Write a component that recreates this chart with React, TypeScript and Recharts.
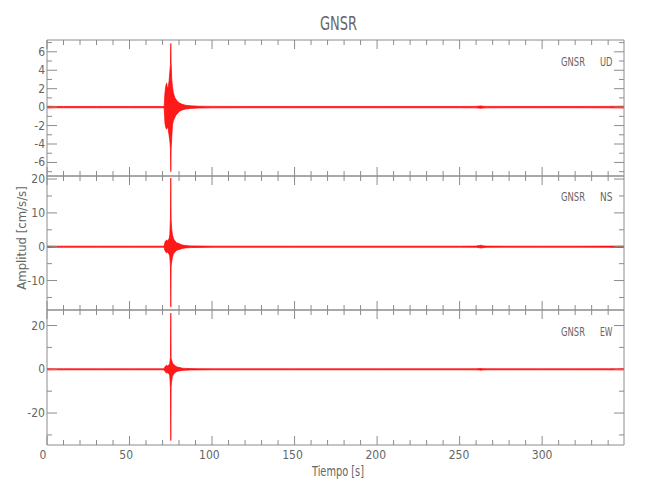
import React from "react";
import { ComposedChart, Area, XAxis, YAxis } from "recharts";

// ---- data ----
const timeS = [
  0, 2, 4, 6, 10, 20, 30, 40, 50, 60, 70, 71, 71.5, 72, 72.5, 73, 73.5, 74, 74.4, 74.8,
  75, 75.2, 75.6, 76, 76.5, 77, 77.5, 78, 78.5, 79.5, 80.5, 82, 84, 87, 92, 100, 120,
  150, 200, 250, 260, 262, 263, 264, 266, 280, 300, 320, 340, 345, 349.6,
];
const udHigh = [
  0.1, 0.09, 0.08, 0.07, 0.07, 0.07, 0.07, 0.07, 0.07, 0.07, 0.07, 0.09, 1.6, 2.3, 2.6, 2.0, 2.2, 2.9, 3.8, 4.6,
  6.9, 4.8, 3.0, 2.2, 1.6, 1.3, 1.0, 0.9, 0.75, 0.55, 0.42, 0.3, 0.2, 0.14, 0.1, 0.08, 0.07,
  0.07, 0.07, 0.07, 0.08, 0.11, 0.13, 0.1, 0.08, 0.07, 0.07, 0.07, 0.08, 0.09, 0.1,
];
const udLow = [
  -0.1, -0.09, -0.08, -0.07, -0.07, -0.07, -0.07, -0.07, -0.07, -0.07, -0.07, -0.09, -1.8, -2.2, -2.4, -2.1, -2.4, -3.1, -3.6, -4.5,
  -7.0, -4.6, -3.2, -2.0, -1.5, -1.3, -1.1, -0.9, -0.8, -0.6, -0.42, -0.3, -0.2, -0.14, -0.1, -0.08, -0.07,
  -0.07, -0.07, -0.07, -0.08, -0.11, -0.13, -0.1, -0.08, -0.07, -0.07, -0.07, -0.08, -0.09, -0.1,
];
const nsHigh = [
  0.22, 0.2, 0.19, 0.17, 0.17, 0.16, 0.16, 0.16, 0.16, 0.16, 0.16, 0.2, 1.4, 1.8, 2.0, 1.7, 2.0, 2.4, 3.5, 8.5,
  20.3, 8.0, 5.0, 3.6, 2.6, 2.0, 1.8, 1.4, 1.2, 1.0, 0.8, 0.5, 0.35, 0.25, 0.2, 0.17, 0.16,
  0.16, 0.16, 0.16, 0.18, 0.35, 0.45, 0.3, 0.18, 0.16, 0.16, 0.16, 0.18, 0.2, 0.22,
];
const nsLow = [
  -0.22, -0.2, -0.19, -0.17, -0.17, -0.16, -0.16, -0.16, -0.16, -0.16, -0.16, -0.2, -1.2, -1.6, -1.8, -1.5, -1.9, -2.2, -3.0, -5.7,
  -17.8, -6.0, -4.2, -3.2, -2.3, -1.8, -1.6, -1.3, -1.1, -0.9, -0.75, -0.5, -0.35, -0.25, -0.2, -0.17, -0.16,
  -0.16, -0.16, -0.16, -0.18, -0.3, -0.4, -0.3, -0.18, -0.16, -0.16, -0.16, -0.18, -0.2, -0.22,
];
const ewHigh = [
  0.32, 0.3, 0.28, 0.25, 0.25, 0.23, 0.23, 0.23, 0.23, 0.23, 0.23, 0.28, 1.2, 1.6, 1.8, 1.5, 1.8, 2.0, 2.8, 5.5,
  25.7, 5.0, 4.0, 3.0, 2.4, 2.0, 1.7, 1.4, 1.2, 0.9, 0.8, 0.5, 0.4, 0.32, 0.27, 0.24, 0.23,
  0.23, 0.23, 0.23, 0.25, 0.35, 0.4, 0.3, 0.25, 0.23, 0.23, 0.23, 0.25, 0.28, 0.32,
];
const ewLow = [
  -0.32, -0.3, -0.28, -0.25, -0.25, -0.23, -0.23, -0.23, -0.23, -0.23, -0.23, -0.28, -0.9, -1.5, -1.7, -1.6, -1.8, -2.1, -3.0, -8.5,
  -32.6, -8.0, -5.0, -3.2, -2.5, -1.9, -1.6, -1.3, -1.1, -0.8, -0.7, -0.5, -0.4, -0.32, -0.27, -0.24, -0.23,
  -0.23, -0.23, -0.23, -0.25, -0.35, -0.4, -0.3, -0.25, -0.23, -0.23, -0.23, -0.25, -0.28, -0.32,
];

const xTicks = [0, 10, 20, 30, 40, 50, 60, 70, 80, 90, 100, 110, 120, 130, 140, 150, 160, 170, 180, 190, 200, 210, 220, 230, 240, 250, 260, 270, 280, 290, 300, 310, 320, 330, 340];
const xLabelValues = [0, 50, 100, 150, 200, 250, 300];
const udTicks = [-7, -6, -5, -4, -3, -2, -1, 0, 1, 2, 3, 4, 5, 6, 7];
const udLabels = [-6, -4, -2, 0, 2, 4, 6];
const nsTicks = [-15, -10, -5, 0, 5, 10, 15, 20];
const nsLabels = [-10, 0, 10, 20];
const ewTicks = [-30, -20, -10, 0, 10, 20];
const ewLabels = [-20, 0, 20];

const rows = timeS.map((t, i) => ({
  t,
  ud: [udLow[i], udHigh[i]],
  ns: [nsLow[i], nsHigh[i]],
  ew: [ewLow[i], ewHigh[i]],
}));

// ---- style ----
const W = 650;
const H = 500;
const LEFT = 47;
const RIGHT = 26;
const T_MAX = 349.6;
const AXIS = "#8c8c8c";
const TEXT = "#666666";
const RED = "#ff0000";
const FONT = "'DejaVu Sans Condensed', 'Liberation Sans', sans-serif";

function makeXTick(side: "top" | "bottom", labels: number[]) {
  return (p: any) => {
    const v = p.payload.value;
    const major = v % 50 === 0;
    const len = major ? 9 : 5;
    const dir = side === "bottom" ? -1 : 1;
    const shift = -4 * (1 - v / 300);
    return (
      <g>
        <line x1={p.x} x2={p.x} y1={p.y} y2={p.y + dir * len} stroke={AXIS} strokeWidth={1} />
        {side === "bottom" && labels.indexOf(v) >= 0 ? (
          <text x={p.x + shift} y={p.y + 14} textAnchor="middle" fontFamily={FONT} fontSize={12} fill={TEXT}>
            {v}
          </text>
        ) : null}
      </g>
    );
  };
}

function makeYTick(side: "left" | "right", labels: number[]) {
  return (p: any) => {
    const v = p.payload.value;
    const major = labels.indexOf(v) >= 0;
    const len = major ? 10 : 5;
    const dir = side === "left" ? 1 : -1;
    return (
      <g>
        <line x1={p.x} x2={p.x + dir * len} y1={p.y} y2={p.y} stroke={AXIS} strokeWidth={1} />
        {side === "left" && major ? (
          <text x={p.x - 2} y={p.y + 4} textAnchor="end" fontFamily={FONT} fontSize={12} fill={TEXT}>
            {v}
          </text>
        ) : null}
      </g>
    );
  };
}

type PanelProps = {
  top: number;
  bottom: number;
  dataKey: string;
  domain: [number, number];
  yTicks: number[];
  yLabels: number[];
  showXLabels: boolean;
};

function Panel({ top, bottom, dataKey, domain, yTicks, yLabels, showXLabels }: PanelProps) {
  return (
    <div style={{ position: "absolute", left: 0, top: 0 }}>
      <ComposedChart
        width={W}
        height={H}
        data={rows}
        margin={{ top: top - 1, bottom: H - bottom - 1, left: LEFT - 1, right: RIGHT - 1 }}
      >
        <XAxis
          xAxisId="b"
          type="number"
          dataKey="t"
          domain={[0, T_MAX]}
          ticks={xTicks}
          interval={0}
          height={1}
          tickSize={0}
          tickMargin={0}
          tickLine={false}
          axisLine={{ stroke: AXIS }}
          allowDataOverflow
          tick={makeXTick("bottom", showXLabels ? xLabelValues : [])}
        />
        <XAxis
          xAxisId="t"
          orientation="top"
          type="number"
          dataKey="t"
          domain={[0, T_MAX]}
          ticks={xTicks}
          interval={0}
          height={1}
          tickSize={0}
          tickMargin={0}
          tickLine={false}
          axisLine={{ stroke: AXIS }}
          allowDataOverflow
          tick={makeXTick("top", [])}
        />
        <YAxis
          yAxisId="l"
          type="number"
          domain={domain}
          ticks={yTicks}
          interval={0}
          width={1}
          tickSize={0}
          tickMargin={0}
          tickLine={false}
          axisLine={{ stroke: AXIS }}
          allowDataOverflow
          tick={makeYTick("left", yLabels)}
        />
        <YAxis
          yAxisId="r"
          orientation="right"
          type="number"
          domain={domain}
          ticks={yTicks}
          interval={0}
          width={1}
          tickSize={0}
          tickMargin={0}
          tickLine={false}
          axisLine={{ stroke: AXIS }}
          allowDataOverflow
          tick={makeYTick("right", yLabels)}
        />
        <Area
          xAxisId="b"
          yAxisId="l"
          dataKey={dataKey}
          type="linear"
          stroke={RED}
          strokeWidth={0.7}
          fill={RED}
          fillOpacity={0.9}
          dot={false}
          activeDot={false}
          isAnimationActive={false}
        />
      </ComposedChart>
    </div>
  );
}

export default function App() {
  return (
    <div style={{ position: "absolute", left: 0, top: 0, width: W, height: H, background: "#fff" }}>
      <Panel top={40} bottom={176} dataKey="ud" domain={[-7.47, 7.28]} yTicks={udTicks} yLabels={udLabels} showXLabels={false} />
      <Panel top={176} bottom={310} dataKey="ns" domain={[-18.7, 20.9]} yTicks={nsTicks} yLabels={nsLabels} showXLabels={false} />
      <Panel top={310} bottom={445} dataKey="ew" domain={[-34.6, 27.1]} yTicks={ewTicks} yLabels={ewLabels} showXLabels={true} />
      <svg width={W} height={H} style={{ position: "absolute", left: 0, top: 0, pointerEvents: "none" }}>
        <text x={320} y={30} textLength={37} lengthAdjust="spacingAndGlyphs" fontFamily={FONT} fontSize={20} fill={TEXT}>GNSR</text>
        <text x={561} y={66} textLength={24} lengthAdjust="spacingAndGlyphs" fontFamily={FONT} fontSize={13} fill={TEXT}>GNSR</text>
        <text x={600} y={66} textLength={12.5} lengthAdjust="spacingAndGlyphs" fontFamily={FONT} fontSize={13} fill={TEXT}>UD</text>
        <text x={561} y={201} textLength={24} lengthAdjust="spacingAndGlyphs" fontFamily={FONT} fontSize={13} fill={TEXT}>GNSR</text>
        <text x={600} y={201} textLength={12.5} lengthAdjust="spacingAndGlyphs" fontFamily={FONT} fontSize={13} fill={TEXT}>NS</text>
        <text x={561} y={336} textLength={24} lengthAdjust="spacingAndGlyphs" fontFamily={FONT} fontSize={13} fill={TEXT}>GNSR</text>
        <text x={600} y={336} textLength={12.5} lengthAdjust="spacingAndGlyphs" fontFamily={FONT} fontSize={13} fill={TEXT}>EW</text>
        <text x={312} y={476} textLength={52} lengthAdjust="spacingAndGlyphs" fontFamily={FONT} fontSize={14} fill={TEXT}>Tiempo [s]</text>
        <text x={0} y={0} transform="translate(26,238) rotate(-90)" textAnchor="middle" fontFamily={FONT} fontSize={13} fill={TEXT}>Amplitud [cm/s/s]</text>
      </svg>
    </div>
  );
}
